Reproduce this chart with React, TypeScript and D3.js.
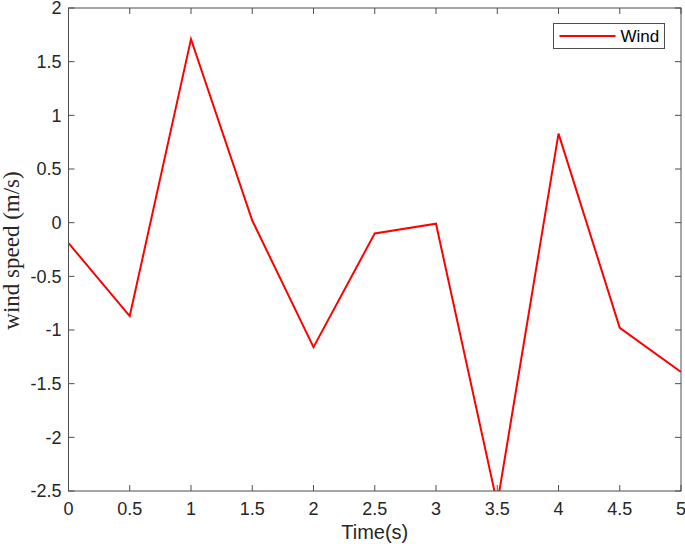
import { useEffect, useRef } from "react";
import * as d3 from "d3";

const times = [0, 0.5, 1, 1.5, 2, 2.5, 3, 3.5, 4, 4.5, 5];
const wind = [-0.19, -0.87, 1.71, 0.02, -1.16, -0.1, -0.01, -2.62, 0.83, -0.98, -1.39];
const xTicks = [0, 0.5, 1, 1.5, 2, 2.5, 3, 3.5, 4, 4.5, 5];
const yTicks = [-2.5, -2, -1.5, -1, -0.5, 0, 0.5, 1, 1.5, 2];
const seriesName = "Wind";

export default function App() {
  const ref = useRef<SVGSVGElement | null>(null);

  useEffect(() => {
    if (!ref.current) return;
    const svg = d3.select(ref.current);
    svg.selectAll("*").remove();

    const width = 685;
    const height = 544;
    const margin = { top: 8, right: 4, bottom: 53, left: 68.5 };
    const axisColor = "#4d4d4d";
    const tickLen = 6;
    const sans = "'Liberation Sans', Arial, sans-serif";

    const x = d3
      .scaleLinear()
      .domain([0, 5])
      .range([margin.left, width - margin.right]);
    const y = d3
      .scaleLinear()
      .domain([-2.5, 2])
      .range([height - margin.bottom, margin.top]);

    const [x0, x1] = x.range();
    const [y0, y1] = y.range();

    svg
      .append("defs")
      .append("clipPath")
      .attr("id", "plot-clip")
      .append("rect")
      .attr("x", x0)
      .attr("y", y1)
      .attr("width", x1 - x0)
      .attr("height", y0 - y1);

    // MARK: data line
    const line = d3
      .line<number>()
      .x((_, i) => x(times[i]))
      .y((d) => y(d));

    svg
      .append("path")
      .attr("clip-path", "url(#plot-clip)")
      .attr("fill", "none")
      .attr("stroke", "#ff0000")
      .attr("stroke-width", 2)
      .attr("d", line(wind) || "");

    // MARK: axes box + ticks
    const g = svg.append("g");
    g.append("rect")
      .attr("x", x0)
      .attr("y", y1)
      .attr("width", x1 - x0)
      .attr("height", y0 - y1)
      .attr("fill", "none")
      .attr("stroke", axisColor)
      .attr("stroke-width", 1);

    xTicks.forEach((t) => {
      g.append("line")
        .attr("x1", x(t)).attr("x2", x(t))
        .attr("y1", y0).attr("y2", y0 - tickLen)
        .attr("stroke", axisColor);
      g.append("line")
        .attr("x1", x(t)).attr("x2", x(t))
        .attr("y1", y1).attr("y2", y1 + tickLen)
        .attr("stroke", axisColor);
      g.append("text")
        .attr("x", x(t))
        .attr("y", y0 + 24)
        .attr("text-anchor", "middle")
        .attr("font-family", sans)
        .attr("font-size", 18)
        .attr("fill", "#262626")
        .text(String(t));
    });

    yTicks.forEach((t) => {
      g.append("line")
        .attr("x1", x0).attr("x2", x0 + tickLen)
        .attr("y1", y(t)).attr("y2", y(t))
        .attr("stroke", axisColor);
      g.append("line")
        .attr("x1", x1).attr("x2", x1 - tickLen)
        .attr("y1", y(t)).attr("y2", y(t))
        .attr("stroke", axisColor);
      g.append("text")
        .attr("x", x0 - 7)
        .attr("y", y(t))
        .attr("dy", "0.35em")
        .attr("text-anchor", "end")
        .attr("font-family", sans)
        .attr("font-size", 18)
        .attr("fill", "#262626")
        .text(String(t));
    });

    // MARK: labels
    svg
      .append("text")
      .attr("x", (x0 + x1) / 2)
      .attr("y", 539)
      .attr("text-anchor", "middle")
      .attr("font-family", sans)
      .attr("font-size", 20)
      .attr("fill", "#262626")
      .text("Time(s)");

    svg
      .append("text")
      .attr("transform", `translate(19,${(y0 + y1) / 2 + 1}) rotate(-90)`)
      .attr("text-anchor", "middle")
      .attr("font-family", "'Liberation Serif', 'Times New Roman', serif")
      .attr("font-size", 23)
      .attr("fill", "#262626")
      .text("wind speed (m/s)");

    // MARK: legend
    const lg = svg.append("g").attr("transform", "translate(553.5,23.5)");
    lg.append("rect")
      .attr("width", 111)
      .attr("height", 25)
      .attr("fill", "#fff")
      .attr("stroke", axisColor);
    lg.append("line")
      .attr("x1", 6).attr("x2", 62)
      .attr("y1", 12.5).attr("y2", 12.5)
      .attr("stroke", "#ff0000")
      .attr("stroke-width", 2);
    lg.append("text")
      .attr("x", 67)
      .attr("y", 12.5)
      .attr("dy", "0.35em")
      .attr("font-family", sans)
      .attr("font-size", 17)
      .attr("fill", "#000")
      .text(seriesName);
  }, []);

  return (
    <svg
      ref={ref}
      width={685}
      height={544}
      style={{ position: "absolute", left: 0, top: 0, background: "#fff" }}
    />
  );
}
